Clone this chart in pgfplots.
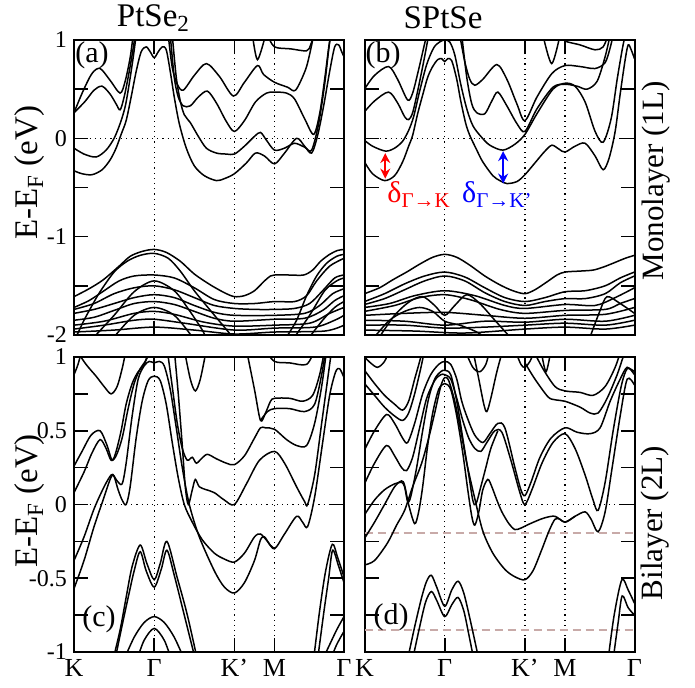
\documentclass[border=0pt]{standalone}
\usepackage{fontspec}
\setmainfont{Liberation Serif}
\usepackage{pgfplots}
\pgfplotsset{compat=1.18}
\usetikzlibrary{arrows.meta}

\definecolor{refline}{RGB}{200,170,168}

\pgfplotsset{
  panel/.style={
    scale only axis, width=135pt, height=147.5pt,
    xmin=0, xmax=269.3,
    axis line style={line width=1pt},
    xtick={0,80,160,200,269.3},
    major tick length=7pt, minor tick length=7pt,
    tick style={black, line width=0.8pt},
    tick align=inside,
    xticklabel style={font=\fontsize{13}{15}\selectfont},
    yticklabel style={font=\fontsize{12}{14}\selectfont},
  },
  top panel/.style={panel, ymin=-2, ymax=1, ytick={-2,-1,0,1},
    minor ytick={-1.5,-0.5,0.5}, xticklabels={}},
  bottom panel/.style={panel, ymin=-1, ymax=1, ytick={-1,-0.5,0,0.5,1},
    minor ytick={-0.75,-0.25,0.25,0.75}, xticklabels={K,Γ,K’,M,Γ}},
  band/.style={black, line width=0.75pt, smooth, tension=0.5},
  guide/.style={black, line width=0.6pt, dotted},
}

\begin{document}
\begin{tikzpicture}
\useasboundingbox (0,0) rectangle (347.5pt,344pt);

% ---------------- (a) PtSe2 monolayer
\begin{axis}[top panel, at={(37pt,176.5pt)}, anchor=south west,
  yticklabels={-2,-1,0,1}]
\addplot[guide] coordinates {(0,0) (269.3,0)};
\addplot[guide] coordinates {(80,-2) (80,1)};
\addplot[guide] coordinates {(160,-2) (160,1)};
\addplot[guide] coordinates {(200,-2) (200,1)};
% conduction bands
\addplot[band] coordinates {(0,-0.33) (8,-0.36) (18,-0.37) (28,-0.32) (36,-0.22) (42,-0.10) (47,0.04) (52,0.18) (57,0.42) (62,0.68) (67,0.88) (72,0.93) (76,0.88) (80,0.82) (84,0.88) (88,0.93) (92,0.9) (96,0.68) (100,0.42) (105,0.15) (112,-0.1) (120,-0.28) (130,-0.38) (142,-0.43) (150,-0.41) (160,-0.36) (172,-0.25) (181,-0.15) (190,-0.18) (200,-0.26) (210,-0.15) (222,0.0) (230,-0.08) (237,-0.15) (243,0.03) (249,0.33) (255,0.68) (260,0.93) (264,0.95) (267,0.88) (269.3,0.83)};
\addplot[band] coordinates {(0,-0.10) (10,-0.16) (22,-0.19) (32,-0.12) (40,0.0) (46,0.15) (51,0.32) (55,0.55) (59,0.82) (62,1.05)};
\addplot[band] coordinates {(98,1.05) (102,0.62) (106,0.38) (110,0.24) (116,0.16) (124,0.02) (132,-0.1) (142,-0.15) (152,-0.16) (160,-0.16) (170,-0.08) (180,0.02) (186,0.06) (192,-0.02) (200,-0.12) (210,-0.1) (220,-0.05) (230,-0.09) (237,-0.12) (244,0.15) (250,0.55) (254,0.9) (256,1.05)};
\addplot[band] coordinates {(0,0.26) (11,0.375) (20,0.49) (28,0.53) (36,0.45) (42,0.35) (46,0.29) (50,0.42) (54,0.62) (58,0.85) (61,1.05)};
\addplot[band] coordinates {(96,1.05) (100,0.62) (104,0.42) (109,0.33) (116,0.33) (124,0.42) (133,0.48) (142,0.36) (152,0.17) (160,0.07) (170,0.18) (181,0.37) (192,0.46) (200,0.47) (212,0.46) (220,0.40) (230,0.2) (239,0.04) (245,0.25) (250,0.6) (254,0.92) (256,1.05)};
\addplot[band] coordinates {(0,0.26) (9,0.48) (18,0.66) (26,0.71) (36,0.59) (46,0.46) (51,0.58) (56,0.82) (59,1.05)};
\addplot[band] coordinates {(94,1.05) (98,0.72) (103,0.55) (109,0.49) (120,0.64) (132,0.76) (145,0.63) (159,0.43) (170,0.57) (183,0.74) (189,0.65) (200,0.57) (213,0.52) (221,0.49) (231,0.7) (236,0.9) (239,1.05)};
\addplot[band] coordinates {(178,1.05) (183,0.80) (191,1.05)};
\addplot[band] coordinates {(193,1.05) (200,0.93) (216,0.91) (232,0.89) (236,0.95) (239,1.05)};
% valence bands
\addplot[band] coordinates {(0,-1.61) (15,-1.53) (29,-1.44) (45,-1.30) (56,-1.20) (68,-1.15) (80,-1.13) (92,-1.16) (106,-1.25) (120,-1.38) (136,-1.49) (150,-1.57) (160,-1.61) (170,-1.60) (180,-1.55) (190,-1.45) (196,-1.40) (200,-1.39) (215,-1.39) (229,-1.39) (238,-1.34) (246,-1.25) (255,-1.18) (263,-1.14) (269.3,-1.13)};
\addplot[band] coordinates {(3,-2.0) (10,-1.85) (18,-1.7) (26,-1.56) (40,-1.36) (53,-1.25) (66,-1.19) (80,-1.17) (94,-1.22) (106,-1.35) (120,-1.55) (136,-1.75) (150,-1.92) (158,-2.02)};
\addplot[band] coordinates {(212,-2.02) (222,-1.85) (232,-1.6) (242,-1.4) (252,-1.27) (262,-1.2) (269.3,-1.18)};
\addplot[band] coordinates {(0,-1.72) (15,-1.65) (30,-1.55) (45,-1.45) (60,-1.40) (80,-1.39) (100,-1.42) (120,-1.52) (140,-1.64) (160,-1.68) (180,-1.68) (200,-1.66) (220,-1.66) (232,-1.6) (242,-1.45) (255,-1.3) (269.3,-1.22)};
\addplot[band] coordinates {(0,-1.74) (20,-1.68) (40,-1.58) (60,-1.52) (80,-1.50) (100,-1.54) (120,-1.62) (140,-1.70) (160,-1.73) (180,-1.74) (200,-1.74) (220,-1.73) (235,-1.68) (248,-1.55) (260,-1.42) (269.3,-1.39)};
\addplot[band] coordinates {(0,-1.78) (20,-1.74) (40,-1.68) (60,-1.62) (80,-1.59) (100,-1.62) (120,-1.7) (140,-1.77) (160,-1.80) (200,-1.80) (230,-1.78) (245,-1.7) (258,-1.58) (269.3,-1.53)};
\addplot[band] coordinates {(0,-1.85) (20,-1.82) (40,-1.75) (60,-1.68) (80,-1.66) (100,-1.69) (120,-1.76) (140,-1.83) (160,-1.86) (200,-1.84) (230,-1.83) (248,-1.75) (260,-1.65) (269.3,-1.60)};
\addplot[band] coordinates {(0,-1.90) (30,-1.86) (60,-1.78) (80,-1.76) (100,-1.79) (130,-1.87) (160,-1.91) (200,-1.90) (235,-1.88) (255,-1.78) (269.3,-1.72)};
\addplot[band] coordinates {(0,-1.94) (30,-1.9) (60,-1.85) (80,-1.84) (110,-1.88) (160,-1.95) (200,-1.93) (240,-1.92) (260,-1.85) (269.3,-1.80)};
\addplot[band] coordinates {(0,-1.97) (40,-1.95) (80,-1.92) (120,-1.95) (160,-1.99) (200,-1.97) (250,-1.96) (269.3,-1.90)};
\addplot[band] coordinates {(20,-2.02) (40,-1.8) (60,-1.56) (80,-1.45) (100,-1.55) (115,-1.75) (128,-1.95) (131,-2.02)};
\addplot[band] coordinates {(220,-2.02) (235,-1.8) (250,-1.55) (262,-1.45) (269.3,-1.42)};
\addplot[band] coordinates {(235,-2.02) (248,-1.85) (260,-1.72) (269.3,-1.66)};
\addplot[band] coordinates {(40,-2.02) (60,-1.8) (80,-1.72) (100,-1.8) (118,-2.02)};
\end{axis}

% ---------------- (b) SPtSe monolayer
\begin{axis}[top panel, at={(182.25pt,176.5pt)}, anchor=south west,
  yticklabels={}]
\addplot[guide] coordinates {(0,0) (269.3,0)};
\addplot[guide] coordinates {(80,-2) (80,1)};
\addplot[guide] coordinates {(160,-2) (160,1)};
\addplot[guide] coordinates {(200,-2) (200,1)};
% conduction bands
\addplot[band] coordinates {(0,-0.24) (8,-0.36) (20,-0.43) (30,-0.38) (38,-0.24) (44,-0.08) (48,0.03) (53,0.25) (58,0.44) (63,0.62) (68,0.73) (73,0.80) (77,0.81) (80,0.78) (83,0.81) (87,0.79) (92,0.6) (96,0.38) (101,0.15) (105,0.03) (112,-0.12) (118,-0.24) (128,-0.38) (135,-0.43) (142,-0.46) (152,-0.44) (160,-0.37) (170,-0.25) (180,-0.13) (187,-0.07) (194,-0.11) (200,-0.14) (210,-0.08) (220,-0.05) (230,-0.18) (238,-0.32) (244,-0.2) (250,0.07) (255,0.45) (260,0.8) (263,0.95) (266,0.9) (269.3,0.81)};
\addplot[band] coordinates {(0,-0.02) (8,-0.08) (21,-0.13) (30,-0.10) (38,-0.03) (44,0.08) (49,0.22) (55,0.48) (62,0.75) (69,0.92) (75,0.98) (80,1.0) (85,0.98) (90,0.85) (96,0.55) (102,0.3) (108,0.13) (116,0.02) (125,-0.07) (138,-0.12) (150,-0.06) (160,0.04) (172,0.25) (188,0.5) (200,0.56) (210,0.53) (220,0.37) (230,0.07) (238,-0.04) (246,0.2) (252,0.6) (257,0.9) (260,1.05)};
\addplot[band] coordinates {(0,0.27) (10,0.38) (24,0.47) (33,0.36) (40,0.22) (44,0.19) (48,0.26) (53,0.48) (59,0.78) (64,1.05)};
\addplot[band] coordinates {(97,1.05) (102,0.62) (107,0.35) (112,0.26) (120,0.25) (127,0.38) (133,0.47) (142,0.33) (152,0.15) (160,0.07) (172,0.3) (188,0.52) (200,0.55) (212,0.53) (222,0.5) (232,0.58) (240,0.83) (245,1.05)};
\addplot[band] coordinates {(0,0.50) (10,0.64) (24,0.73) (33,0.6) (43,0.39) (48,0.46) (54,0.7) (59,0.92) (62,1.05)};
\addplot[band] coordinates {(95,1.05) (100,0.78) (105,0.6) (110,0.54) (118,0.6) (132,0.75) (142,0.6) (152,0.35) (160,0.18) (172,0.42) (187,0.66) (200,0.74) (215,0.73) (230,0.71) (240,0.77) (245,0.92) (248,1.05)};
\addplot[band] coordinates {(178,1.05) (186.7,0.76) (195,1.05)};
\addplot[band] coordinates {(198,1.05) (200,0.99) (215,0.95) (230,0.9) (238,0.93) (243,1.05)};
% valence bands
\addplot[band] coordinates {(0,-1.58) (15,-1.52) (28,-1.44) (42,-1.36) (55,-1.28) (68,-1.21) (80,-1.18) (92,-1.21) (105,-1.29) (120,-1.40) (135,-1.49) (148,-1.55) (160,-1.58) (170,-1.54) (182,-1.46) (192,-1.39) (200,-1.36) (215,-1.35) (228,-1.34) (238,-1.31) (248,-1.27) (260,-1.22) (269.3,-1.19)};
\addplot[band] coordinates {(0,-1.66) (20,-1.58) (40,-1.48) (60,-1.40) (80,-1.36) (100,-1.41) (120,-1.52) (140,-1.62) (160,-1.66) (180,-1.62) (200,-1.56) (220,-1.55) (240,-1.50) (255,-1.42) (269.3,-1.36)};
\addplot[band] coordinates {(0,-1.69) (20,-1.63) (40,-1.54) (60,-1.45) (80,-1.40) (100,-1.45) (120,-1.57) (140,-1.66) (160,-1.70) (180,-1.66) (200,-1.63) (220,-1.63) (240,-1.58) (255,-1.47) (269.3,-1.40)};
\addplot[band] coordinates {(0,-1.72) (25,-1.68) (50,-1.60) (80,-1.55) (110,-1.60) (140,-1.70) (160,-1.73) (200,-1.69) (230,-1.70) (250,-1.62) (269.3,-1.52)};
\addplot[band] coordinates {(15,-2.02) (30,-1.8) (45,-1.66) (58,-1.61) (70,-1.7) (80,-1.80) (90,-1.7) (102,-1.59) (115,-1.68) (130,-1.85) (145,-2.02)};
\addplot[band] coordinates {(225,-2.02) (235,-1.75) (242,-1.61) (255,-1.68) (269.3,-1.78)};
\addplot[band] coordinates {(0,-1.76) (30,-1.7) (55,-1.62) (80,-1.59) (105,-1.64) (135,-1.74) (160,-1.78) (200,-1.75) (240,-1.74) (255,-1.68) (269.3,-1.63)};
\addplot[band] coordinates {(0,-1.80) (40,-1.78) (80,-1.77) (120,-1.8) (160,-1.83) (200,-1.8) (240,-1.79) (269.3,-1.72)};
\addplot[band] coordinates {(0,-1.85) (40,-1.86) (80,-1.90) (120,-1.86) (160,-1.87) (200,-1.84) (240,-1.86) (269.3,-1.80)};
\addplot[band] coordinates {(0,-1.90) (40,-1.9) (80,-1.93) (120,-1.92) (160,-1.90) (200,-1.88) (240,-1.9) (269.3,-1.85)};
\addplot[band] coordinates {(0,-1.95) (50,-1.96) (100,-1.98) (160,-1.94) (200,-1.92) (240,-1.94) (269.3,-1.90)};
\addplot[band] coordinates {(10,-2.02) (25,-1.85) (40,-1.76) (55,-1.72) (68,-1.76) (80,-1.86) (95,-1.9) (110,-1.96) (120,-2.02)};
% gap markers
\draw[<->, red, line width=1.1pt, >={Stealth[length=5pt,width=5pt]}] (axis cs:20.7,-0.15) -- (axis cs:20.7,-0.41);
\draw[<->, blue, line width=1.1pt, >={Stealth[length=5pt,width=5pt]}] (axis cs:138.3,-0.13) -- (axis cs:138.3,-0.46);
\node[red, inner sep=0pt] at (axis cs:54,-0.57) {\fontsize{15}{17}\selectfont δ\raisebox{-0.35ex}{\fontsize{10.5}{12}\selectfont Γ→K}};
\node[blue, inner sep=0pt] at (axis cs:132,-0.57) {\fontsize{15}{17}\selectfont δ\raisebox{-0.35ex}{\fontsize{10.5}{12}\selectfont Γ→K’}};
\end{axis}

% ---------------- (c) PtSe2 bilayer
\begin{axis}[bottom panel, at={(37pt,18pt)}, anchor=south west,
  yticklabels={-1,-0.5,0,0.5,1}]
\addplot[guide] coordinates {(0,0) (269.3,0)};
\addplot[guide] coordinates {(80,-1) (80,1)};
\addplot[guide] coordinates {(160,-1) (160,1)};
\addplot[guide] coordinates {(200,-1) (200,1)};
\addplot[band] coordinates {(0,-0.57) (10,-0.38) (20,-0.15) (30,0.05) (36,0.17) (39,0.20) (43,0.16) (48,0.14) (52,0.28) (58,0.6) (64,0.85) (70,0.94) (75,0.97) (80,0.96) (85,0.97) (90,0.94) (96,0.78) (102,0.52) (108,0.25) (115,0.0) (125,-0.22) (140,-0.45) (150,-0.56) (160,-0.60) (170,-0.53) (180,-0.38) (186,-0.24) (190,-0.22) (195,-0.27) (200,-0.30)};
\addplot[band] coordinates {(0,-0.38) (10,-0.22) (20,-0.03) (30,0.12) (37,0.2) (40,0.19) (44,0.1) (48,0.03) (52,0.0) (56,0.12) (62,0.45) (68,0.7) (74,0.84) (80,0.87) (86,0.84) (92,0.68) (98,0.42) (104,0.18) (110,0.0) (118,-0.12) (128,-0.24) (140,-0.33) (150,-0.37) (160,-0.39) (170,-0.33) (180,-0.22) (186,-0.2) (193,-0.25) (200,-0.30) (210,-0.2) (222,-0.08) (228,-0.12) (233,-0.15) (240,0.05) (248,0.42) (255,0.74) (261,0.9) (265,0.92) (269.3,0.86)};
\addplot[band] coordinates {(0,0.08) (10,0.22) (18,0.35) (26,0.44) (32,0.38) (37,0.3) (42,0.33) (48,0.45) (54,0.65) (60,0.82) (66,0.92) (72,0.98) (76,1.05)};
\addplot[band] coordinates {(0,0.26) (8,0.36) (17,0.47) (26,0.50) (33,0.40) (38,0.30) (42,0.36) (47,0.5) (52,0.68) (58,0.82) (64,0.9) (70,0.95) (75,1.05)};
\addplot[band] coordinates {(93,1.05) (98,0.8) (103,0.55) (108,0.38) (113,0.3) (118,0.32) (122,0.28) (127,0.31) (133,0.34) (142,0.31) (152,0.28) (160,0.27) (170,0.33) (180,0.45) (186,0.52) (191,0.52) (200,0.51) (212,0.44) (222,0.40) (232,0.40) (240,0.55) (247,0.8) (252,1.05)};
\addplot[band] coordinates {(100,1.05) (104,0.75) (108,0.4) (111,0.12) (114,0.0) (118,0.1) (121,0.17) (125,0.12) (132,0.1) (140,0.08) (150,0.03) (160,0.0) (172,0.14) (185,0.3) (200,0.36) (210,0.28) (222,0.12) (230,0.02) (233,0.0) (240,0.2) (247,0.55) (253,0.85) (257,1.05)};
\addplot[band] coordinates {(172,1.05) (180,0.78) (186,0.57) (191,0.62) (196,0.7) (200,0.72) (215,0.72) (228,0.70) (238,0.74) (245,0.88) (250,1.05)};
\addplot[band] coordinates {(186,0.57) (193,0.63) (200,0.65) (215,0.65) (230,0.63) (240,0.68) (247,0.88) (251,1.05)};
\addplot[band] coordinates {(2,1.05) (12,0.95) (22,0.87) (30,0.8) (37,0.75) (43,0.8) (48,0.92) (52,1.05)};
\addplot[band] coordinates {(0,0.88) (4,0.95) (8,1.05)};
\addplot[band] coordinates {(110,1.05) (116,0.85) (121,0.77) (126,0.85) (132,1.05)};
\addplot[band] coordinates {(190,1.05) (200,0.97) (215,0.96) (232,0.95) (240,1.05)};
\addplot[band] coordinates {(39,-1.05) (46,-0.85) (52,-0.63) (58,-0.42) (66,-0.275) (72.7,-0.40) (80,-0.51) (86,-0.40) (92.7,-0.25) (102.7,-0.49) (112.7,-0.74) (123,-1.05)};
\addplot[band] coordinates {(41,-1.05) (48,-0.82) (55,-0.6) (60,-0.45) (66,-0.32) (72,-0.45) (80,-0.56) (87,-0.44) (92.7,-0.31) (100,-0.48) (110,-0.75) (121,-1.05)};
\addplot[band] coordinates {(239,-1.05) (245,-0.72) (251,-0.45) (257.7,-0.27) (263,-0.36) (269.3,-0.49)};
\addplot[band] coordinates {(243,-1.05) (249,-0.74) (254,-0.5) (258,-0.31) (264,-0.42) (269.3,-0.53)};
\addplot[band] coordinates {(50,-1.05) (60,-0.9) (70,-0.8) (80,-0.76) (90,-0.8) (100,-0.9) (110,-1.05)};
\addplot[band] coordinates {(63,-1.05) (70,-0.92) (80,-0.84) (90,-0.92) (97,-1.05)};
\addplot[band] coordinates {(248,-1.05) (255,-0.95) (262,-0.85) (269.3,-0.76)};
\addplot[band] coordinates {(256,-1.05) (262,-0.95) (269.3,-0.86)};
\end{axis}

% ---------------- (d) SPtSe bilayer
\begin{axis}[bottom panel, at={(182.25pt,18pt)}, anchor=south west,
  yticklabels={}]
\addplot[guide] coordinates {(0,0) (269.3,0)};
\addplot[guide] coordinates {(80,-1) (80,1)};
\addplot[guide] coordinates {(160,-1) (160,1)};
\addplot[guide] coordinates {(200,-1) (200,1)};
\addplot[refline, line width=1pt, dash pattern=on 4pt off 2.5pt] coordinates {(0,-0.196) (269.3,-0.196)};
\addplot[refline, line width=1pt, dash pattern=on 4pt off 2.5pt] coordinates {(0,-0.85) (269.3,-0.85)};
\addplot[band] coordinates {(0,-0.41) (10,-0.38) (23,-0.26) (32,-0.14) (40,-0.04) (48,0.12) (57,0.28) (64,0.45) (70,0.62) (76,0.8) (80,0.86) (84,0.84) (90,0.7) (96,0.5) (102,0.28) (110,0.04) (118,-0.18) (128,-0.33) (140,-0.44) (150,-0.49) (160,-0.51) (168,-0.45) (176,-0.32) (184,-0.18) (190,-0.1) (195,-0.1) (200,-0.12) (210,-0.08)};
\addplot[band] coordinates {(0,-0.23) (10,-0.12) (20,0.0) (30,0.12) (37,0.16) (40,0.13) (44,0.0) (50,-0.13) (54,-0.05) (58,0.12) (63,0.4) (68,0.62) (74,0.78) (80,0.82) (86,0.78) (92,0.6) (98,0.35) (103,0.1) (107,-0.08) (110,-0.14) (114,-0.05) (118,0.1) (123,0.17) (127,0.12) (132,0.03) (137,-0.05) (144,-0.13) (150,-0.17) (156,-0.16) (162,-0.14) (172,-0.11) (180,-0.09) (190,-0.08) (200,-0.12) (210,-0.08) (220,-0.05) (226,-0.1) (233,-0.185) (240,-0.05) (247,0.25) (255,0.6) (262,0.85) (269.3,0.81)};
\addplot[band] coordinates {(0,-0.07) (10,0.03) (20,0.1) (30,0.14) (37,0.15) (40,0.12) (43,0.02) (46,0.05) (52,0.25) (58,0.5) (64,0.72) (70,0.85) (76,0.9) (80,0.91) (86,0.88) (92,0.7) (98,0.45) (104,0.2) (108,0.03) (111,0.0) (116,0.12) (121,0.25) (126,0.38) (133,0.5)};
\addplot[band] coordinates {(0,0.37) (10,0.5) (22,0.61) (30,0.55) (38,0.45) (43,0.42) (50,0.55) (58,0.75) (66,0.88) (74,0.95) (80,0.97) (86,0.95) (92,0.85) (97,0.7) (103,0.58) (110,0.47) (118,0.42) (125,0.48) (133,0.55) (140,0.52) (150,0.25) (156,0.1) (160,0.06) (166,0.15) (175,0.32) (186,0.45) (200,0.52) (212,0.49) (225,0.48) (235,0.52) (245,0.7) (255,0.85) (262,0.93) (269.3,0.88)};
\addplot[band] coordinates {(0,0.14) (10,0.28) (22,0.40) (30,0.33) (37,0.25) (42,0.23) (48,0.32) (55,0.52) (62,0.72) (70,0.84) (76,0.88) (80,0.88) (86,0.85) (92,0.72) (98,0.57) (104,0.45) (110,0.38) (116,0.36) (122,0.42) (130,0.5) (137,0.49) (146,0.3) (155,0.08) (160,0.0) (167,0.1) (177,0.28) (188,0.42) (200,0.48) (210,0.38) (220,0.2) (228,0.03) (233,-0.04) (240,0.15) (248,0.5) (256,0.8) (262,0.92) (269.3,0.9)};
\addplot[band] coordinates {(0,0.91) (10,0.82) (20,0.74) (30,0.68) (38,0.64) (44,0.7) (50,0.85) (55,0.97) (58,1.05)};
\addplot[band] coordinates {(0,0.82) (10,0.74) (20,0.66) (30,0.6) (38,0.57) (44,0.62) (50,0.75) (56,0.92) (60,1.05)};
\addplot[band] coordinates {(0,1.0) (6,0.96) (13,0.93) (20,0.97) (25,1.05)};
\addplot[band] coordinates {(108,1.05) (114,0.85) (119,0.68) (122,0.63) (126,0.72) (132,0.9) (138,1.05)};
\addplot[band] coordinates {(100,1.05) (108,0.93) (115,0.9) (121,0.95) (125,1.05)};
\addplot[band] coordinates {(150,1.05) (156,0.95) (160,0.93) (165,0.97) (170,1.05)};
\addplot[band] coordinates {(176,1.05) (181,0.90) (186,1.05)};
\addplot[band] coordinates {(160,0.96) (170,0.85) (183,0.73) (190,0.71) (200,0.70) (215,0.66) (225,0.62) (233,0.62) (242,0.72) (252,0.88) (258,1.0) (262,1.05)};
\addplot[band] coordinates {(168,1.05) (178,0.92) (190,0.8) (200,0.77) (215,0.76) (228,0.74) (240,0.8) (250,0.93) (256,1.05)};
\addplot[band] coordinates {(43,-1.05) (50,-0.83) (57,-0.63) (62,-0.52) (66.7,-0.48) (72,-0.56) (80,-0.69) (87,-0.58) (93.3,-0.52) (99,-0.6) (106,-0.8) (114,-1.05)};
\addplot[band] coordinates {(48,-1.05) (55,-0.83) (61,-0.66) (66.7,-0.59) (72,-0.65) (80,-0.76) (87,-0.68) (93.3,-0.63) (99,-0.72) (104,-0.88) (109,-1.05)};
\addplot[band] coordinates {(243,-1.05) (249,-0.75) (256.7,-0.51) (263,-0.58) (269.3,-0.67)};
\addplot[band] coordinates {(248,-1.05) (253,-0.8) (257,-0.62) (263,-0.7) (269.3,-0.75)};
\end{axis}

% ---------------- titles and labels
\node[font=\fontsize{16.5}{19}\selectfont] at (76.75pt,335pt) {PtSe\textsubscript{2}};
\node[font=\fontsize{16.5}{19}\selectfont] at (221.5pt,335pt) {SPtSe};
\node[font=\fontsize{16.5}{19}\selectfont, rotate=90] at (15pt,257.75pt) {E-E\textsubscript{F} (eV)};
\node[font=\fontsize{16.5}{19}\selectfont, rotate=90] at (15pt,93.5pt) {E-E\textsubscript{F} (eV)};
\node[font=\fontsize{15.5}{18}\selectfont, rotate=90] at (328pt,253.5pt) {Monolayer (1L)};
\node[font=\fontsize{15.5}{18}\selectfont, rotate=90] at (327.5pt,82.5pt) {Bilayer (2L)};
\node[font=\fontsize{15}{17}\selectfont] at (46pt,316.5pt) {(a)};
\node[font=\fontsize{15}{17}\selectfont] at (191.5pt,316.5pt) {(b)};
\node[font=\fontsize{15}{17}\selectfont] at (49.5pt,34.5pt) {(c)};
\node[font=\fontsize{15}{17}\selectfont] at (195.5pt,35.5pt) {(d)};
\end{tikzpicture}
\end{document}
